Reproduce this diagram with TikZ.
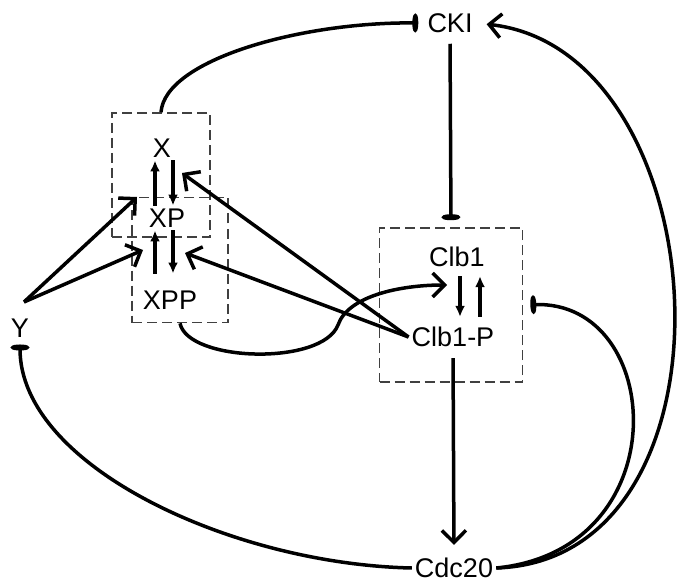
\documentclass[tikz,border=0pt]{standalone}
\usepackage{fontspec}
\setmainfont{Liberation Sans}
\usetikzlibrary{arrows.meta}
\begin{document}
\begin{tikzpicture}[
    x=1pt, y=-1pt,
    species/.style={inner sep=3pt, font=\fontsize{27}{30}\selectfont},
    cbox/.style={draw=black!75, dash pattern=on 10pt off 5pt, line width=1.6pt, inner sep=0pt},
    act/.style={line width=3.5pt, -{Straight Barb[length=12pt,width=24pt]}},
    inh/.style={line width=3.5pt, -{Ellipse[length=6pt,width=18pt]}},
    conv/.style={line width=3.8pt, -{Latex[length=11pt,width=10pt]}}
]
  \useasboundingbox (0,0) rectangle (679,585);

  % Compartments
  \node[cbox, minimum width=98pt, minimum height=124pt] (boxx) at (161,175) {};
  \node[cbox, minimum width=96pt, minimum height=125pt] (boxxp) at (180,260) {};
  \node[cbox, minimum width=143pt, minimum height=154pt] (boxc) at (451,305) {};

  % Species
  \node[species] (cki) at (450,23) {CKI};
  \node[species] (x) at (162,148) {X};
  \node[species] (xp) at (167,218) {XP};
  \node[species] (xpp) at (170,300) {XPP};
  \node[species] (clb) at (457,257) {Clb1};
  \node[species] (clbp) at (453,337) {Clb1-P};
  \node[species] (y) at (20,328) {Y};
  \node[species] (cdc) at (454,568) {Cdc20};

  \coordinate (ytop) at (24,302);
  \coordinate (xin) at (137,197);
  \coordinate (xpin) at (143,250);
  \coordinate (xback) at (182,173);
  \coordinate (xpback) at (185,253);
  \coordinate (clbin) at (447,285);

  % X <-> XP <-> XPP
  \draw[conv] ([xshift=-7]x.south |- xp.north) -- ([xshift=-7]x.south);
  \draw[conv] ([xshift=11]x.south) -- ([xshift=11]x.south |- xp.north);
  \draw[conv, shorten <=14pt] ([xshift=-7]x.south |- xpp.north) -- ([xshift=-7]x.south |- xp.south);
  \draw[conv, shorten >=14pt] ([xshift=11]x.south |- xp.south) -- ([xshift=11]x.south |- xpp.north);

  % Clb1 <-> Clb1-P
  \draw[conv, shorten <=6pt, shorten >=7pt] ([xshift=3]clb.south) -- ([xshift=3]clb.south |- clbp.north);
  \draw[conv, shorten <=7pt, shorten >=6pt] ([xshift=23]clb.south |- clbp.north) -- ([xshift=23]clb.south);

  % Y and Clb1-P act on X
  \draw[act] (ytop) -- (xin);
  \draw[act] (ytop) -- (xpin);
  \draw[act] (clbp.west) -- (xback);
  \draw[act] (clbp.west) -- (xpback);

  % XPP acts on Clb1
  \draw[act] (boxxp.south) .. controls (188,362) and (322,366) .. (338,325)
    .. controls (348,296) and (400,285) .. (clbin);

  % CKI
  \draw[inh, shorten >=6pt] (boxx.north) .. controls (165,60) and (300,22) .. (cki.west);
  \draw[inh, shorten <=8pt, shorten >=7pt] (cki.south) -- (boxc.north);

  % Cdc20
  \draw[act, shorten <=8pt, shorten >=10pt] (clbp.south) -- (cdc.north);
  \draw[inh, shorten >=4pt] (cdc.west) .. controls (230,564) and (20,465) .. (y.south);
  \draw[inh, shorten >=7pt] (cdc.east) .. controls (680,550) and (665,300) .. (boxc.east);
  \draw[act, shorten >=11pt] (cdc.east) .. controls (750,560) and (720,50) .. (cki.east);
\end{tikzpicture}
\end{document}
